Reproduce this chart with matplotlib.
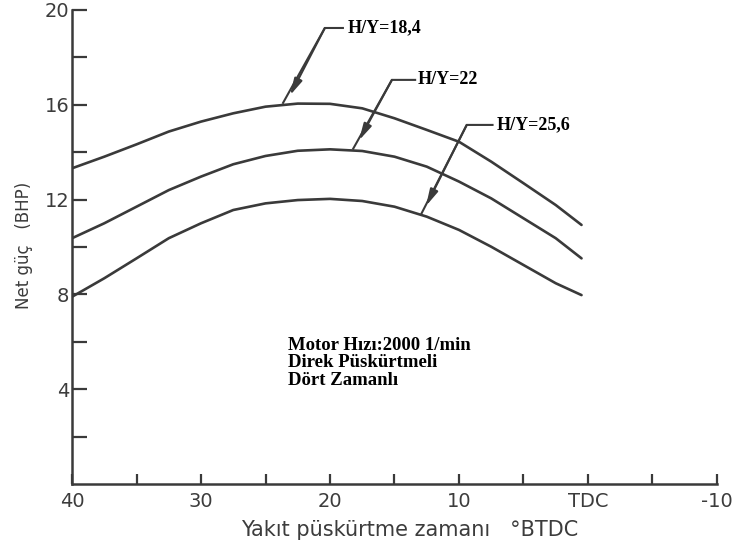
import matplotlib
matplotlib.use('Agg')
import matplotlib.pyplot as plt
import numpy as np

# injection timing (deg BTDC) and net power (BHP)
timing = [40, 37.5, 35, 32.5, 30, 27.5, 25, 22.5, 20, 17.5, 15, 12.5, 10, 7.5, 5, 2.5, 0.5]
power_184 = [13.32, 13.81, 14.33, 14.87, 15.29, 15.64, 15.92, 16.05, 16.04, 15.85, 15.43,
             14.94, 14.44, 13.6, 12.69, 11.77, 10.93]
power_22 = [10.37, 11.0, 11.7, 12.4, 12.97, 13.49, 13.84, 14.06, 14.12, 14.05, 13.81,
            13.39, 12.76, 12.05, 11.21, 10.37, 9.52]
power_256 = [7.9, 8.68, 9.52, 10.37, 11.0, 11.56, 11.84, 11.98, 12.03, 11.94, 11.7,
             11.28, 10.72, 10.01, 9.24, 8.47, 7.97]

series_labels = ['H/Y=18,4', 'H/Y=22', 'H/Y=25,6']

x_ticks = [40, 30, 20, 10, 0, -10]
x_tick_labels = ['40', '30', '20', '10', 'TDC', '-10']
y_ticks = [4, 8, 12, 16, 20]

line_col = '#3a3a3a'
text_col = '#3c3c3c'

fig = plt.figure(figsize=(7.38, 5.51), dpi=100)
ax = fig.add_axes([0.0976, 0.1216, 0.8739, 0.8603])

for p in [power_184, power_22, power_256]:
    ax.plot(timing, p, color=line_col, lw=1.9, solid_capstyle='round', solid_joinstyle='round')

ax.set_xlim(40, -10)
ax.set_ylim(0, 20)

# ticks every 5 / 2, labels only on some
xt = np.arange(40, -11, -5)
ax.set_xticks(xt)
ax.set_xticklabels([x_tick_labels[x_ticks.index(v)] if v in x_ticks else '' for v in xt])
yt = np.arange(0, 21, 2)
ax.set_yticks(yt)
ax.set_yticklabels([str(v) if v in y_ticks else '' for v in yt])

ax.tick_params(axis='x', direction='in', length=7, width=1.6, color=line_col,
               labelsize=14, labelcolor=text_col, pad=6)
ax.tick_params(axis='y', direction='in', length=11, width=1.6, color=line_col,
               labelsize=14, labelcolor=text_col, pad=2)
ax.yaxis.get_major_ticks()[0].tick1line.set_visible(False)

for s in ['top', 'right']:
    ax.spines[s].set_visible(False)
for s in ['left', 'bottom']:
    ax.spines[s].set_color(line_col)
    ax.spines[s].set_linewidth(1.8)

ax.set_xlabel('Yakıt püskürtme zamanı   \u00b0BTDC', fontsize=15, color=text_col)
ax.xaxis.set_label_coords(0.524, -0.075)
ax.set_ylabel('Net güç   (BHP)', fontsize=12, color=text_col)
ax.yaxis.set_label_coords(-0.06, 0.504)

# leader lines with arrowheads: (label pos, corner, line end, curve point, arrow tip)
leaders = [
    ((18.6, 19.24), (20.4, 19.24), (19.0, 19.24), (23.64, 16.08), (23.1, 16.4)),
    ((13.2, 17.05), (15.2, 17.05), (13.4, 17.05), (18.2, 14.15), (17.75, 14.5)),
    ((7.05, 15.15), (9.4, 15.15), (7.4, 15.15), (12.9, 11.42), (12.56, 11.73)),
]
for lab, (tpos, corner, hend, cpt, tip) in zip(series_labels, leaders):
    ax.plot([hend[0], corner[0], cpt[0]], [hend[1], corner[1], cpt[1]],
            color=line_col, lw=1.5, solid_joinstyle='round')
    ax.annotate('', xy=tip, xytext=corner,
                arrowprops=dict(arrowstyle='-|>,head_length=1.0,head_width=0.25',
                                color=line_col, lw=1.5, shrinkA=0, shrinkB=0))
    ax.text(tpos[0], tpos[1], lab, fontsize=13, fontweight='bold',
            family='Liberation Serif', ha='left', va='center', color='black')

ax.text(23.26, 6.2, 'Motor Hızı:2000 1/min\nDirek Püskürtmeli\nDört Zamanlı',
        fontsize=13.5, fontweight='bold', family='Liberation Serif',
        ha='left', va='top', linespacing=1.03, color='black')

fig.savefig('out.png', dpi=100)
